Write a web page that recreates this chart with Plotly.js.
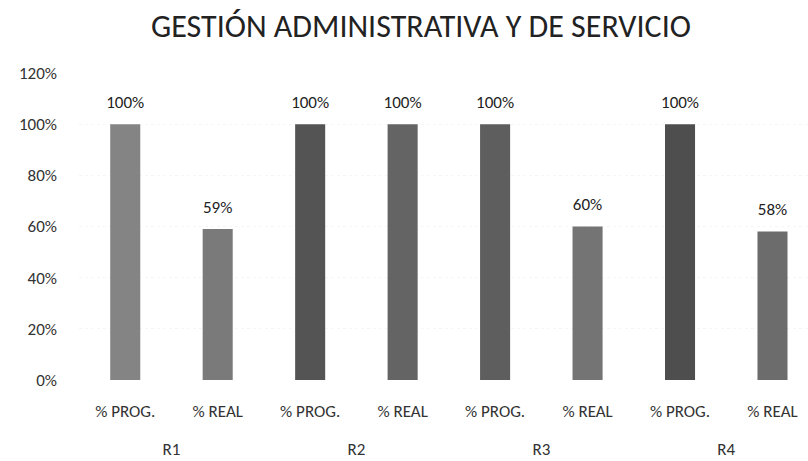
<!DOCTYPE html>
<html>
<head>
<meta charset="utf-8">
<script src="https://cdn.plot.ly/plotly-3.0.1.min.js"></script>
<style>html,body{margin:0;padding:0;background:#fff;}#chart{width:808px;height:461px;}</style>
</head>
<body>
<div id="chart"></div>
<script>
var groups = ["R1", "R1", "R2", "R2", "R3", "R3", "R4", "R4"];
var kinds = ["% PROG.", "% REAL", "% PROG.", "% REAL", "% PROG.", "% REAL", "% PROG.", "% REAL"];
var values = [1.00, 0.59, 1.00, 1.00, 1.00, 0.60, 1.00, 0.58];
var barColors = ["#848484", "#7a7a7a", "#545454", "#646464", "#5e5e5e", "#747474", "#4e4e4e", "#6c6c6c"];
var yTicks = [0, 0.2, 0.4, 0.6, 0.8, 1.0, 1.2];

var FONT = "Carlito, Lato, 'Open Sans', sans-serif";

// positions of bars along the category axis (index of each category)
var pos = kinds.map(function(_, i){ return i; });
// group label positions: mean index of each group
var groupNames = [];
var groupPos = [];
groups.forEach(function(g, i){
  var k = groupNames.indexOf(g);
  if (k < 0) { groupNames.push(g); groupPos.push([i]); }
  else groupPos[k].push(i);
});
groupPos = groupPos.map(function(a){ return a.reduce(function(s, v){ return s + v; }, 0) / a.length; });

var labels = values.map(function(v){ return Math.round(v*100) + "%"; });

var bars = {
  type: "bar",
  x: pos,
  y: values,
  width: 0.325,
  marker: {color: barColors, line: {width: 0}},
  hoverinfo: "skip"
};

var valueLabels = {
  type: "scatter",
  mode: "markers+text",
  x: pos,
  y: values,
  xaxis: "x2",
  text: labels,
  textposition: "top center",
  textfont: {family: FONT, size: 17, color: "#222"},
  marker: {size: 18, opacity: 0},
  cliponaxis: false,
  hoverinfo: "skip"
};

var xr = [-0.5, 7.384];

var layout = {
  width: 808, height: 461,
  margin: {l: 79, r: 0, t: 73, b: 81},
  paper_bgcolor: "#fff", plot_bgcolor: "#fff",
  showlegend: false,
  font: {family: FONT, color: "#333"},
  title: {
    text: "GESTIÓN ADMINISTRATIVA Y DE SERVICIO",
    font: {family: FONT, size: 32, color: "#222"},
    x: 421/808, xanchor: "center", xref: "container",
    y: 1 - 26/461, yanchor: "middle", yref: "container"
  },
  xaxis: {
    range: xr,
    tickvals: pos, ticktext: kinds,
    showline: false, zeroline: false, showgrid: false,
    ticks: "",
    ticklabelstandoff: 19,
    tickfont: {family: FONT, size: 17, color: "#333"}
  },
  xaxis2: {
    overlaying: "x", anchor: "y", side: "bottom",
    range: xr,
    tickvals: groupPos, ticktext: groupNames,
    showline: false, zeroline: false, showgrid: false,
    ticks: "",
    ticklabelstandoff: 57,
    tickfont: {family: FONT, size: 17, color: "#333"}
  },
  yaxis: {
    range: [0, 1.2],
    tickvals: yTicks,
    tickformat: ".0%",
    showgrid: true, gridcolor: "#f6f6f6", griddash: "dot", gridwidth: 1,
    zeroline: false, showline: false,
    ticks: "",
    ticklabelstandoff: 21,
    tickfont: {family: FONT, size: 17, color: "#333"}
  }
};

Plotly.newPlot("chart", [bars, valueLabels], layout, {displayModeBar: false, staticPlot: true});
</script>
</body>
</html>
